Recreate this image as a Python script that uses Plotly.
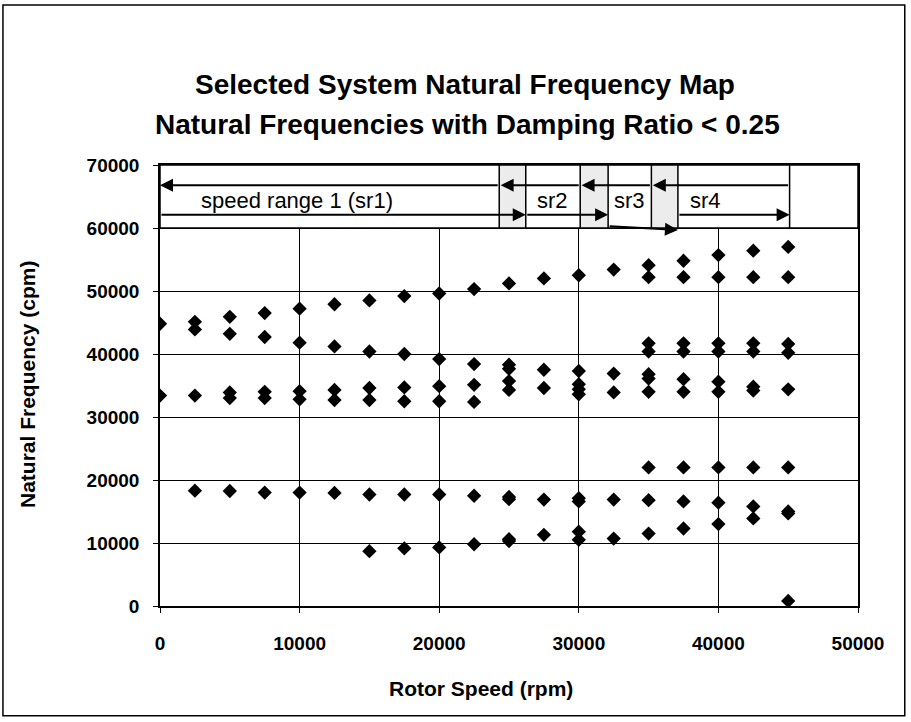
import plotly.graph_objects as go

# ---------------- data ----------------
rotor_speed = [0, 2500, 5000, 7500, 10000, 12500, 15000, 17500, 20000, 22500,
               25000, 27500, 30000, 32500, 35000, 37500, 40000, 42500, 45000]
N = None
mode_top = [44800, 45100, 45900, 46500, 47200, 47900, 48500, 49200, 49600, 50300,
            51200, 52000, 52500, 53400, 54100, 54800, 55700, 56400, 57000]
mode_52k = [N]*14 + [52200, 52200, 52200, 52200, 52200]
mode_41k7 = [N]*14 + [41700, 41700, 41700, 41700, 41600]
mode_40k4 = [N]*14 + [40400, 40400, 40400, 40400, 40200]
mode_falling = [N, 43900, 43200, 42700, 41800, 41200, 40400, 40000, 39200, 38400,
                38300, 37500, 37300, 36900, 36800, 36000, 35600, 34800, 34400]
mode_falling_b = [N]*10 + [37650, N, N, N, 36100, N, N, N, N]
mode_mid_upper = [33400, 33400, 33900, 34000, 34100, 34300, 34600, 34700, 34900, 35100,
                  35700, 34600, 35200, 33900, 34000, 34000, 34000, 34200, N]
mode_mid_lower = [N, N, 33000, 33000, 32800, 32700, 32700, 32500, 32500, 32400,
                  34300, N, 34400, N, N, N, N, N, N]
mode_mid_c = [N]*12 + [33600, N, N, N, N, N, N]
mode_18k = [N, 18300, 18250, 18000, 18000, 17950, 17700, 17700, 17700, 17500,
            17300, 16900, 17100, 16900, 16800, 16600, 16400, 15800, 15000]
mode_18k_b = [N]*10 + [16950, N, 16600, N, N, N, N, N, N]
mode_rising_low = [N, N, N, N, N, N, 8700, 9150, 9300, 9800,
                   10600, 11300, 11800, 10700, 11500, 12300, 13000, 13900, 14700]
mode_rising_low_b = [N]*10 + [10300, N, 10500, N, N, N, N, N, N]
mode_22k = [N]*14 + [22000, 22000, 22000, 22000, 22000]
mode_low = [N]*18 + [800]

modes = [mode_top, mode_52k, mode_41k7, mode_40k4, mode_falling, mode_falling_b,
         mode_mid_upper, mode_mid_lower, mode_mid_c, mode_18k, mode_18k_b,
         mode_rising_low, mode_rising_low_b, mode_22k, mode_low]

# speed-range annotation (rpm): transition zones between ranges, end of sr4
transition_zones = [(24300, 26200), (30100, 32100), (35200, 37100)]
sr4_end = 45100
range_labels = ["speed range 1 (sr1)", "sr2", "sr3", "sr4"]
label_centers = [9800, 28100, 33600, 39100]

title_lines = ["Selected System Natural Frequency Map",
               "Natural Frequencies with Damping Ratio < 0.25"]
x_title = "Rotor Speed (rpm)"
y_title = "Natural Frequency (cpm)"

# ---------------- figure ----------------
xs, ys = [], []
for m in modes:
    for sp, f in zip(rotor_speed, m):
        if f is not None:
            xs.append(sp)
            ys.append(f)

FONT = "Liberation Sans, Arial, sans-serif"

fig = go.Figure()
fig.add_trace(go.Scatter(x=xs, y=ys, mode="markers",
                         marker=dict(symbol="diamond", size=11, color="black",
                                     line=dict(width=0)),
                         showlegend=False, hoverinfo="x+y"))

axis_common = dict(showgrid=True, gridcolor="black", gridwidth=1,
                   showline=True, linecolor="black", linewidth=1.5, mirror=True,
                   ticks="outside", ticklen=5, tickcolor="black", tickwidth=1,
                   zeroline=False, tickformat="d",
                   tickfont=dict(family=FONT, size=19, color="black", weight="bold"))

fig.update_layout(
    width=911, height=722,
    margin=dict(l=160, r=53, t=165, b=116),
    paper_bgcolor="white", plot_bgcolor="white",
    xaxis=dict(range=[0, 50000], dtick=10000, ticklabelstandoff=14, **axis_common),
    yaxis=dict(range=[0, 70000], dtick=10000, ticklabelstandoff=10, **axis_common),
)

shapes = []
shapes.append(dict(type="rect", xref="x", yref="y", x0=0, x1=50000, y0=60000, y1=70000,
                   fillcolor="white", line=dict(color="black", width=1.5), layer="above"))
for (a, b) in transition_zones:
    shapes.append(dict(type="rect", xref="x", yref="y", x0=a, x1=b, y0=60000, y1=70000,
                       fillcolor="#ececec", line=dict(color="black", width=1.5), layer="above"))
shapes.append(dict(type="line", xref="x", yref="y", x0=sr4_end, x1=sr4_end, y0=60000, y1=70000,
                   line=dict(color="black", width=1.5), layer="above"))
shapes.append(dict(type="rect", xref="paper", yref="paper", x0=-0.225, x1=1.067,
                   y0=-0.249, y1=1.363, line=dict(color="black", width=1.5),
                   fillcolor="rgba(0,0,0,0)", layer="above"))

annotations = []
y_left, y_right = 66800, 62100
starts = [0] + [b for (a, b) in transition_zones]
ends_left = [a for (a, b) in transition_zones] + [sr4_end]
left_tips = [0] + [a + 100 for (a, b) in transition_zones]
for tip, tail in zip(left_tips, ends_left):
    annotations.append(dict(x=tip, y=y_left, ax=tail, ay=y_left, xref="x", yref="y",
                            axref="x", ayref="y", showarrow=True, arrowhead=2,
                            arrowsize=1.3, arrowwidth=2, arrowcolor="black", text=""))
right_tips = [b for (a, b) in transition_zones] + [sr4_end]
for i, (tail, tip) in enumerate(zip(starts, right_tips)):
    y0, y1 = (y_right, y_right)
    if i == 2:
        y0, y1 = 60300, 59700
    annotations.append(dict(x=tip, y=y1, ax=tail, ay=y0, xref="x", yref="y",
                            axref="x", ayref="y", showarrow=True, arrowhead=2,
                            arrowsize=1.3, arrowwidth=2, arrowcolor="black", text=""))
for lab, cx in zip(range_labels, label_centers):
    annotations.append(dict(x=cx, y=64300, xref="x", yref="y", text=lab, showarrow=False,
                            xanchor="center", yanchor="middle",
                            font=dict(family=FONT, size=22, color="black")))

title_font = dict(family=FONT, size=28, color="black", weight="bold")
annotations.append(dict(x=(465 - 160) / 698, y=(606 - 85) / 441, xref="paper", yref="paper",
                        text=title_lines[0], showarrow=False, xanchor="center", yanchor="middle",
                        font=title_font))
annotations.append(dict(x=(467 - 160) / 698, y=(606 - 125) / 441, xref="paper", yref="paper",
                        text=title_lines[1], showarrow=False, xanchor="center", yanchor="middle",
                        font=title_font))
annotations.append(dict(x=(481 - 160) / 698, y=-(688 - 606) / 441, xref="paper", yref="paper",
                        text=x_title, showarrow=False, xanchor="center", yanchor="middle",
                        font=dict(family=FONT, size=21, color="black", weight="bold")))
annotations.append(dict(x=-(160 - 27) / 698, y=(606 - 385) / 441, xref="paper", yref="paper",
                        text=y_title, textangle=-90, showarrow=False,
                        xanchor="center", yanchor="middle",
                        font=dict(family=FONT, size=21, color="black", weight="bold")))

fig.update_layout(shapes=shapes, annotations=annotations)
fig.write_html("out.html", config={"displayModeBar": False},
               post_script="document.body.style.margin='0px';")
